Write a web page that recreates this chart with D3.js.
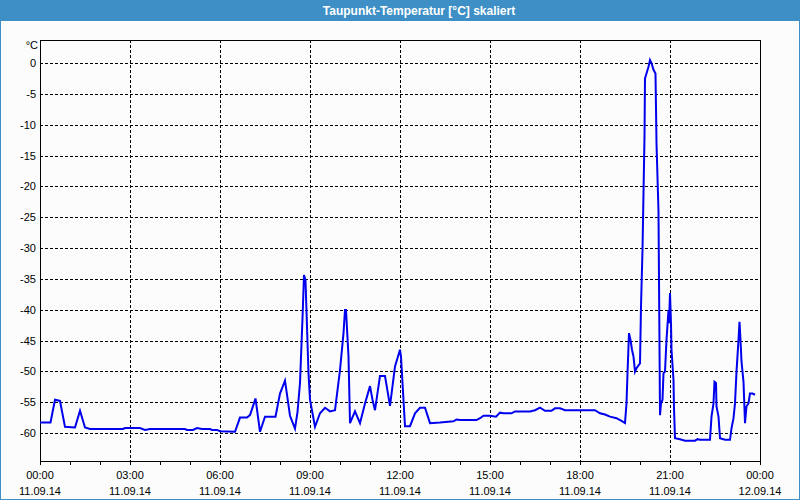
<!DOCTYPE html>
<html><head><meta charset="utf-8">
<script src="https://cdn.jsdelivr.net/npm/d3@7"></script>
<style>
html,body{margin:0;padding:0;background:#fff;}
svg{display:block;}
text{font-family:"Liberation Sans",Arial,sans-serif;}
</style></head>
<body>
<svg id="c" width="800" height="500"></svg>
<script>
// minutes since 11.09.14 00:00
const minutes = [0,21,30,40,50,70,80,90,100,166,170,200,210,220,290,294,306,314,324,340,344,354,360,390,400,414,420,431,440,450,471,480,490,500,510,515,520,525,528,531,537,540,545,550,560,570,580,590,600,607,610,612,617,620,630,640,650,660,665,670,680,690,700,710,720,722,730,740,750,760,770,780,800,827,833,840,873,880,887,900,912,920,927,943,950,980,990,1000,1010,1023,1030,1040,1050,1110,1120,1130,1140,1153,1163,1170,1173,1175,1178,1181,1184,1187,1190,1193,1200,1202,1205,1207,1209,1210,1213,1217,1220,1223,1227,1231,1233,1237,1238,1239,1240,1242,1245,1247,1250,1253,1257,1258,1260,1262,1263,1267,1268,1270,1280,1290,1310,1315,1320,1340,1343,1347,1349,1352,1353,1357,1360,1370,1380,1383,1387,1390,1393,1397,1399,1401,1403,1407,1410,1413,1417,1420,1425,1430];
const dewPoint = [-58.3,-58.3,-54.6,-54.8,-59.0,-59.1,-56.4,-59.1,-59.35,-59.35,-59.2,-59.2,-59.5,-59.35,-59.35,-59.5,-59.5,-59.2,-59.35,-59.35,-59.5,-59.5,-59.7,-59.8,-57.5,-57.5,-57.1,-54.4,-59.8,-57.35,-57.35,-53.6,-51.5,-57.2,-59.3,-56.6,-51.9,-41.4,-34.4,-35.2,-50.3,-54.6,-56.8,-59.0,-56.8,-55.9,-56.5,-56.3,-49.8,-43.8,-40.05,-40.05,-47.6,-58.4,-56.5,-58.4,-55.2,-52.4,-54.6,-56.3,-50.75,-50.75,-55.6,-49.2,-46.5,-47.6,-58.9,-58.9,-56.8,-55.9,-55.9,-58.4,-58.3,-58.1,-57.8,-57.9,-57.9,-57.6,-57.2,-57.2,-57.35,-56.7,-56.8,-56.8,-56.5,-56.5,-56.3,-55.9,-56.4,-56.4,-56.0,-56.0,-56.3,-56.3,-56.8,-57.0,-57.35,-57.6,-58.05,-58.4,-55.2,-50.3,-43.8,-44.9,-46.5,-47.6,-50.05,-49.5,-48.7,-39.5,-30.3,-21.1,-11.9,-2.5,-1.7,-0.6,0.5,0,-1.1,-1.7,-13,-24.1,-35.2,-46,-57.1,-55.2,-54.6,-50.3,-50.05,-44.9,-40.05,-42.2,-37.3,-42.2,-46.5,-51.4,-56.0,-60.85,-61.0,-61.25,-61.25,-61.0,-61.1,-61.1,-57.35,-55.2,-51.7,-51.9,-55.7,-57.35,-60.85,-61.1,-61.1,-59.25,-57.6,-55.2,-50.05,-44.9,-41.95,-44.9,-48.4,-51.7,-58.4,-55.7,-55.2,-53.6,-53.6,-53.8];
const yTicks = [0,-5,-10,-15,-20,-25,-30,-35,-40,-45,-50,-55,-60];
const xTickHours = [0,3,6,9,12,15,18,21,24];
const title = "Taupunkt-Temperatur [°C] skaliert";
const unit = "°C";

const svg = d3.select("#c");
const W = 800, H = 500;
const L = 40, R = 760, T = 40, B = 461;
const base = new Date(2014, 8, 11, 0, 0);
const t = m => new Date(base.getTime() + m * 60000);

// background + frame
svg.append("rect").attr("x",0).attr("y",0).attr("width",W).attr("height",H).attr("fill","#fbfcfb");
svg.append("rect").attr("x",0.5).attr("y",0.5).attr("width",W-1).attr("height",H-1).attr("fill","none").attr("stroke","#3d8fc6").attr("stroke-width",1);
svg.append("rect").attr("x",0).attr("y",0).attr("width",W).attr("height",21).attr("fill","#3d8fc6");
svg.append("text").attr("x",419).attr("y",15).attr("text-anchor","middle").attr("fill","#fff")
  .attr("font-size","12px").attr("font-weight","bold").text(title);

const x = d3.scaleTime().domain([base, t(1440)]).range([L, R]);
const y = d3.scaleLinear().domain([-64.54, 3.73]).range([B, T]);

// horizontal grid
svg.append("g").selectAll("line").data(yTicks).join("line")
  .attr("x1",L).attr("x2",R).attr("y1",d=>Math.round(y(d))+0.5).attr("y2",d=>Math.round(y(d))+0.5)
  .attr("stroke","#000").attr("stroke-dasharray","3,2").attr("shape-rendering","crispEdges");
// vertical grid
const majors = xTickHours.slice(1,-1).map(h=>t(h*60));
svg.append("g").selectAll("line").data(majors).join("line")
  .attr("x1",d=>Math.round(x(d))+0.5).attr("x2",d=>Math.round(x(d))+0.5).attr("y1",T).attr("y2",B)
  .attr("stroke","#000").attr("stroke-dasharray","3,2").attr("shape-rendering","crispEdges");

// y labels
svg.append("g").selectAll("text").data(yTicks).join("text")
  .attr("x",36).attr("y",d=>y(d)+4).attr("text-anchor","end").attr("font-size","11px").attr("fill","#000")
  .text(d=>d);
svg.append("text").attr("x",38).attr("y",49).attr("text-anchor","end").attr("font-size","11px").text(unit);

// x axis ticks (hourly)
const xAxis = d3.axisBottom(x).ticks(d3.timeHour.every(1)).tickSize(4).tickFormat("");
const gx = svg.append("g").attr("transform",`translate(0,${B})`).call(xAxis);
gx.select(".domain").remove();
gx.selectAll("line").attr("stroke","#000");

// x labels
const fmtT = d3.timeFormat("%H:%M"), fmtD = d3.timeFormat("%d.%m.%y");
const lab = svg.append("g").selectAll("g").data(xTickHours.map(h=>t(h*60))).join("g");
lab.append("text").attr("x",d=>x(d)).attr("y",479).attr("text-anchor","middle").attr("font-size","11px").text(fmtT);
lab.append("text").attr("x",d=>x(d)).attr("y",495).attr("text-anchor","middle").attr("font-size","11px").text(fmtD);

// plot frame
svg.append("rect").attr("x",L+0.5).attr("y",T+0.5).attr("width",R-L).attr("height",B-T)
  .attr("fill","none").attr("stroke","#000").attr("shape-rendering","crispEdges");

// line
const pts = minutes.map((m,i)=>[t(m), dewPoint[i]]);
svg.append("path").datum(pts)
  .attr("d", d3.line().x(d=>x(d[0])).y(d=>y(d[1])))
  .attr("fill","none").attr("stroke","#0000ee").attr("stroke-width",2).attr("stroke-linejoin","miter");
</script>
</body></html>
